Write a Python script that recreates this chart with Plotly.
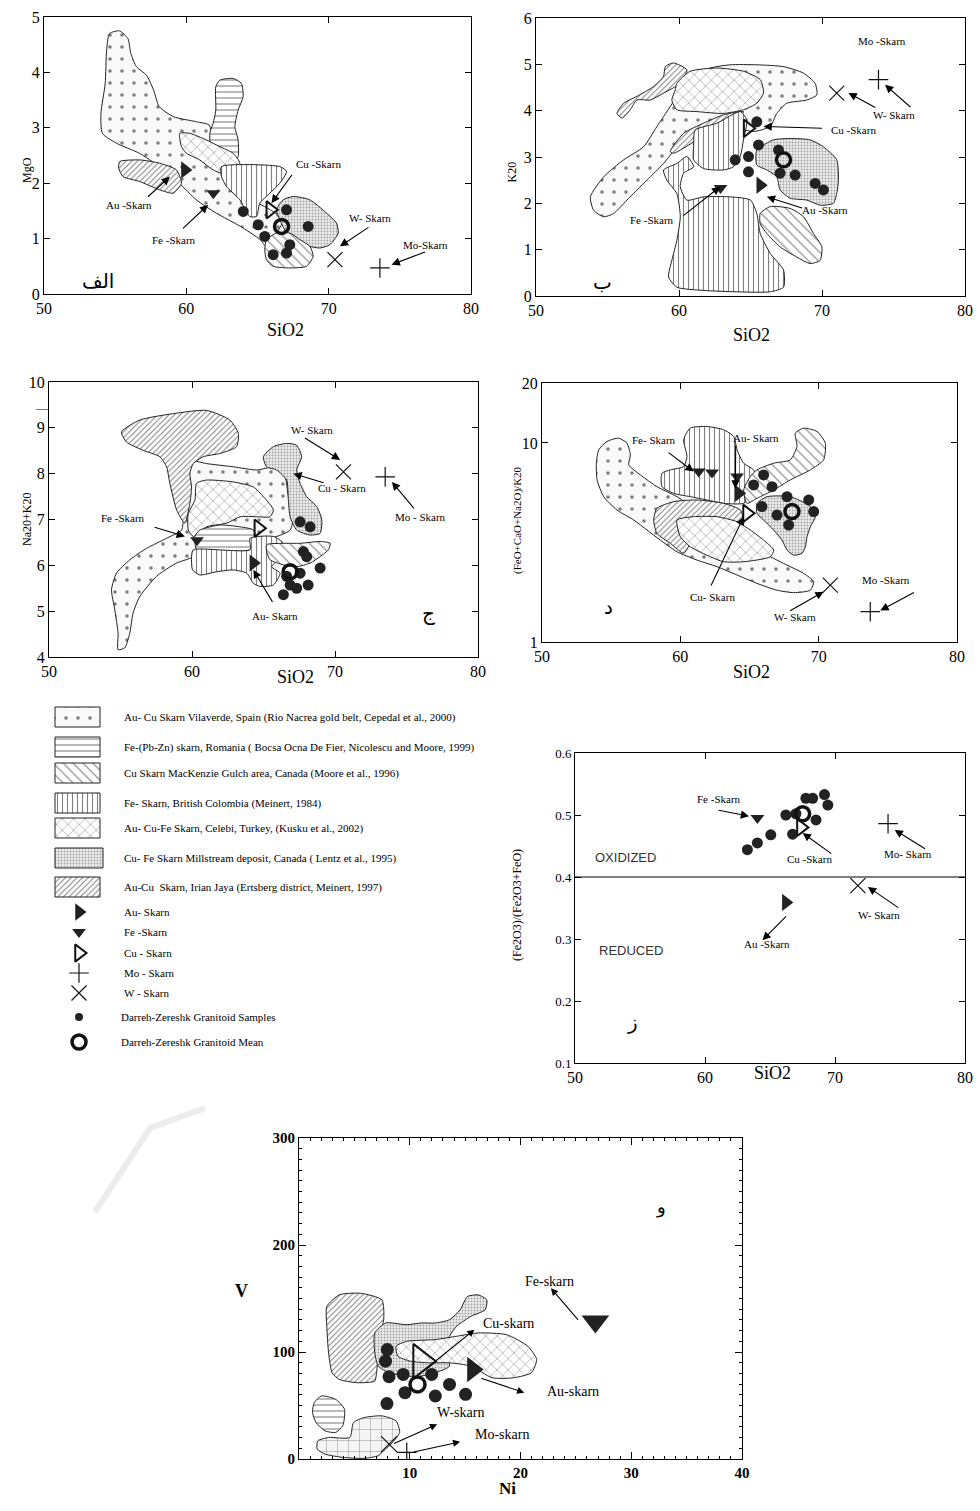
import numpy as np
import plotly.graph_objects as go

W, H = 980, 1511
SERIF = "Liberation Serif, Times New Roman, serif"
SANS = "Liberation Sans, Arial, sans-serif"
ARAB = "DejaVu Sans, Noto Sans, sans-serif"

# ============ DATA ============
# ---- Panel 1 (الف): MgO vs SiO2 ----
p1_A = [(54.6,4.70),(55.3,4.75),(55.9,4.61),(56.1,4.34),(56.5,4.10),(57.2,3.95),(57.7,3.68),(58.1,3.38),(59.1,3.20),(60.7,3.11),(61.6,3.05),(61.9,2.78),(63.3,2.18),(64.7,1.70),(65.9,1.52),(66.8,1.34),(65.6,0.86),(65.2,0.98),(63.8,1.22),(62.1,1.46),(60.7,1.70),(59.5,2.0),(58.1,2.30),(56.7,2.54),(55.1,2.72),(54.1,2.90),(54.0,3.26),(54.3,3.80),(54.4,4.40)]
p1_B = [(62.07,3.74),(62.35,3.86),(63.29,3.89),(63.87,3.80),(63.99,3.56),(63.64,3.32),(63.41,3.02),(63.64,2.78),(63.64,2.48),(63.29,2.33),(61.88,2.42),(61.65,2.90),(61.88,3.08),(62.07,3.32)]
p1_E = [(59.54,2.90),(60.24,2.90),(61.41,2.78),(62.35,2.66),(63.29,2.54),(63.76,2.36),(63.29,2.21),(62.82,2.15),(61.88,2.24),(60.94,2.42),(60.01,2.54),(59.66,2.66)]
p1_D = [(62.47,2.30),(66.57,2.30),(67.04,2.21),(66.57,2.00),(65.87,1.82),(65.16,1.64),(64.93,1.40),(64.46,1.40),(63.76,1.70),(62.82,1.94),(62.47,2.12)]
p1_F = [(66.80,1.70),(67.51,1.76),(68.68,1.70),(69.85,1.46),(70.55,1.28),(70.67,1.10),(70.08,0.89),(69.38,0.83),(68.68,0.86),(67.98,0.92),(67.51,0.98),(67.04,1.10),(66.57,1.34),(66.33,1.52)]
p1_C = [(65.63,0.98),(66.33,1.10),(67.27,1.10),(67.98,0.98),(68.68,0.86),(68.91,0.68),(68.44,0.50),(67.27,0.47),(66.10,0.50),(65.63,0.62),(65.51,0.80)]
p1_G = [(55.32,2.39),(56.73,2.42),(58.13,2.36),(59.30,2.24),(59.66,2.00),(59.07,1.82),(58.13,1.88),(56.73,2.03),(55.55,2.12),(55.25,2.27)]
p1_samples_x = [64.0,65.05,65.51,67.04,68.56,66.10,67.04,67.27]
p1_samples_y = [1.49,1.25,1.04,1.52,1.22,0.71,0.74,0.89]
p1_mean = (66.69,1.22)
p1_au = (59.9,2.24)
p1_fe = (61.9,1.82)
p1_cu = (65.9,1.52)
p1_w = (70.44,0.62)
p1_mo = (73.6,0.47)
p1_labels = [("Au -Skarn",56.0,1.61),("Fe -Skarn",59.1,0.97),("Cu -Skarn",69.3,2.34),("W- Skarn",72.9,1.38),("Mo-Skarn",76.8,0.89)]
p1_arrows = [(57.2,1.73,58.84,2.12),(59.66,1.16,61.53,1.61),(67.5,2.18,65.98,1.64),(72.9,1.22,70.79,0.86),(76.88,0.77,74.42,0.53)]

# ---- Panel 2 (ب): K2O vs SiO2 ----
p2_A = [(53.80,2.14),(54.73,2.57),(56.13,2.94),(57.52,3.22),(58.46,3.66),(59.39,4.09),(60.78,4.74),(62.18,4.92),(63.58,4.99),(65.44,4.99),(67.31,4.95),(68.71,4.81),(69.52,4.59),(69.64,4.34),(68.94,4.23),(67.54,4.16),(66.84,3.94),(66.38,3.66),(65.21,3.55),(63.58,3.66),(61.95,3.73),(60.78,3.51),(59.85,3.22),(58.92,2.86),(57.76,2.50),(56.36,2.07),(55.43,1.78),(54.73,1.71),(54.03,1.85)]
p2_G1 = [(59.04,4.95),(59.62,5.03),(60.55,4.88),(60.09,4.59),(58.92,4.38),(57.99,4.23),(57.06,4.23),(56.59,4.02),(56.01,3.84),(55.66,3.94),(56.13,4.16),(57.06,4.31),(58.22,4.52),(58.92,4.74)]
p2_G2 = [(59.39,3.12),(60.32,3.51),(61.72,3.73),(63.11,3.91),(64.51,3.98),(64.05,3.80),(62.65,3.62),(61.25,3.37),(60.32,3.19),(59.62,3.08)]
p2_E = [(59.85,4.59),(60.78,4.85),(62.65,4.92),(64.51,4.85),(65.68,4.67),(65.91,4.38),(65.44,4.16),(64.51,4.02),(63.11,3.94),(61.25,3.98),(59.85,4.02),(59.50,4.23),(59.74,4.45)]
p2_D1 = [(61.02,3.22),(61.13,3.58),(62.65,3.73),(64.28,3.98),(64.74,3.80),(64.51,3.37),(64.28,3.01),(63.81,2.79),(63.11,2.72),(61.72,2.75),(61.02,2.94)]
p2_D2 = [(58.92,2.72),(59.85,2.86),(60.55,3.01),(61.02,2.79),(60.32,2.65),(60.09,2.36),(60.55,2.07),(61.72,2.14),(63.58,2.14),(65.00,2.07),(65.44,1.78),(65.68,1.35),(66.38,0.92),(67.31,0.56),(67.31,0.19),(66.38,0.09),(64.05,0.09),(61.72,0.12),(59.85,0.19),(59.27,0.41),(59.50,0.77),(59.85,1.20),(60.09,1.71),(59.85,2.21),(59.15,2.50)]
p2_F = [(65.44,3.15),(66.61,3.37),(67.77,3.40),(69.17,3.37),(70.10,3.22),(71.03,2.94),(71.15,2.50),(71.03,2.21),(70.80,2.00),(69.87,1.96),(68.94,2.07),(67.77,2.11),(67.07,2.29),(66.84,2.57),(66.14,2.72),(65.44,2.83)]
p2_C = [(65.68,1.78),(66.38,1.93),(67.77,1.89),(68.71,1.71),(69.40,1.35),(69.99,1.06),(69.87,0.77),(69.17,0.70),(68.24,0.84),(67.07,1.06),(66.14,1.35),(65.68,1.56)]
p2_samples_x = [65.44,65.56,64.86,63.93,64.86,66.96,67.07,68.12,69.52,70.1]
p2_samples_y = [3.76,3.26,3.01,2.94,2.68,3.15,2.65,2.61,2.43,2.29]
p2_mean = (67.31,2.94)
p2_au = (65.68,2.39)
p2_fe = (62.9,2.33)
p2_cu = (64.8,3.62)
p2_w = (71.03,4.38)
p2_mo = (73.95,4.67)
p2_labels = [("Mo -Skarn",74.2,5.50),("W- Skarn",75.0,3.91),("Cu -Skarn",72.2,3.58),("Au -Skarn",70.2,1.85),("Fe -Skarn",58.1,1.64)]
p2_arrows = [(73.83,4.05,71.85,4.38),(76.28,4.05,74.41,4.56),(70.10,3.62,65.91,3.66),(68.71,1.89,66.14,2.14),(60.20,1.71,62.88,2.36)]

# ---- Panel 3 (ج): Na2O+K2O vs SiO2 ----
p3_A = [(58.80,8.26),(59.62,8.31),(61.02,8.22),(62.89,8.15),(64.52,8.08),(65.92,8.15),(66.51,7.93),(66.74,7.50),(67.09,7.06),(66.86,6.77),(65.92,6.63),(64.29,6.55),(62.42,6.59),(60.55,6.48),(60.09,6.19),(58.92,6.05),(57.52,5.76),(56.35,5.32),(55.88,4.96),(55.65,4.52),(55.30,4.20),(54.83,4.16),(54.83,4.52),(54.60,5.03),(54.37,5.47),(54.72,5.83),(55.65,6.12),(56.82,6.37),(58.22,6.59),(59.27,6.77),(59.39,7.06),(59.15,7.50),(58.92,7.86)]
p3_G = [(55.07,8.91),(56.35,9.17),(58.69,9.31),(61.02,9.38),(62.65,9.17),(63.24,8.88),(63.12,8.59),(61.95,8.44),(60.79,8.37),(60.09,8.22),(59.85,8.00),(59.97,7.71),(59.85,7.35),(59.50,6.92),(58.92,7.21),(58.45,7.79),(58.22,8.15),(57.75,8.37),(56.58,8.51),(55.42,8.69)]
p3_E = [(60.32,7.79),(61.02,7.86),(62.89,7.82),(64.29,7.71),(64.99,7.50),(65.69,7.21),(65.46,7.06),(64.52,7.06),(63.36,7.06),(62.42,6.92),(61.02,6.84),(60.09,6.63),(59.74,6.77),(59.74,7.13),(60.20,7.42)]
p3_B = [(60.55,6.77),(61.95,6.88),(63.36,6.84),(64.29,6.77),(64.52,6.48),(64.06,6.34),(62.65,6.30),(61.02,6.30),(60.32,6.34),(60.20,6.63)]
p3_D = [(60.09,6.34),(64.06,6.34),(64.06,6.59),(65.69,6.63),(66.39,6.48),(66.27,6.19),(65.57,5.97),(66.16,5.83),(65.69,5.57),(64.76,5.54),(64.29,5.61),(63.82,5.83),(62.89,5.90),(61.72,5.86),(60.55,5.79),(60.04,5.90),(59.97,6.19)]
p3_C = [(65.22,6.45),(66.39,6.48),(67.56,6.48),(68.96,6.52),(69.66,6.48),(69.54,6.34),(68.96,6.19),(68.26,6.05),(67.32,5.97),(66.39,6.01),(65.46,6.12),(65.22,6.30)]
p3_F = [(64.99,8.37),(65.69,8.59),(66.62,8.66),(67.32,8.62),(67.67,8.37),(67.32,8.08),(67.56,7.79),(68.02,7.50),(68.73,7.28),(69.08,6.99),(68.96,6.70),(68.26,6.66),(67.32,6.77),(66.86,7.06),(66.74,7.42),(66.62,7.86),(65.92,8.08),(65.22,8.15)]
p3_samples_x = [67.56,68.26,67.79,68.02,68.96,67.56,66.62,66.86,68.12,67.32,66.39]
p3_samples_y = [6.95,6.84,6.30,6.19,5.94,5.83,5.76,5.57,5.57,5.50,5.36]
p3_mean = (66.86,5.86)
p3_au = (64.29,6.05)
p3_fe = (60.35,6.55)
p3_cu = (64.64,6.81)
p3_w = (70.59,8.04)
p3_mo = (73.51,7.93)
p3_labels = [("W- Skarn",68.4,8.95),("Cu - Skarn",70.5,7.68),("Mo - Skarn",76.0,7.06),("Fe -Skarn",55.2,7.03),("Au- Skarn",65.8,4.89)]
p3_arrows = [(67.79,8.80,70.36,8.30),(69.31,7.79,67.09,8.0),(75.61,7.21,73.98,7.82),(57.28,6.84,59.50,6.63),(65.69,5.17,64.29,5.90)]

# ---- Panel 4 (د): (FeO+CaO+Na2O)/K2O vs SiO2 (log) ----
p4_A = [(54.10,9.23),(54.70,10.17),(55.54,10.57),(56.14,9.97),(56.39,8.71),(56.27,7.76),(57.11,6.91),(58.31,6.03),(59.76,5.37),(61.20,4.60),(63.13,3.79),(64.58,3.13),(66.02,2.79),(67.47,2.48),(68.92,2.21),(69.64,2.01),(69.40,1.82),(68.19,1.77),(66.99,1.82),(65.54,1.97),(64.10,2.17),(62.65,2.39),(61.20,2.58),(59.76,2.84),(58.55,3.25),(57.59,3.65),(56.63,4.10),(55.42,4.60),(54.46,5.37),(53.98,6.52),(53.93,7.91)]
p4_D = [(58.67,7.04),(59.28,7.32),(60.24,7.61),(60.48,8.54),(60.24,10.37),(60.72,11.87),(61.93,12.10),(63.13,11.64),(63.86,10.77),(64.10,9.23),(64.58,7.91),(65.30,7.32),(65.54,6.52),(65.06,5.37),(64.58,4.97),(63.13,4.97),(61.93,5.17),(60.72,5.37),(59.52,5.58),(58.67,6.03)]
p4_C = [(65.54,7.32),(66.75,7.91),(67.95,8.22),(68.43,9.60),(68.31,11.20),(68.92,11.86),(69.88,11.42),(70.48,9.97),(70.36,8.22),(69.40,7.32),(67.95,6.52),(66.75,5.80),(65.54,5.27),(64.82,4.97),(64.58,5.80),(65.06,6.78)]
p4_G = [(58.07,4.10),(58.31,4.69),(59.52,5.07),(61.20,5.17),(63.13,4.97),(64.34,4.60),(64.58,3.94),(64.10,3.65),(62.65,3.51),(61.20,3.51),(60.72,3.13),(60.24,2.79),(59.28,3.13),(58.31,3.51)]
p4_E = [(59.76,4.10),(60.96,4.26),(62.65,4.26),(64.10,4.02),(65.06,3.65),(66.02,3.25),(66.75,2.90),(66.51,2.68),(64.58,2.53),(63.13,2.53),(62.17,2.68),(60.72,3.01),(60.0,3.38)]
p4_F = [(65.54,4.97),(66.27,5.37),(67.95,5.37),(69.40,4.79),(69.76,4.26),(69.40,3.79),(69.16,3.38),(69.04,3.01),(68.80,2.79),(68.19,2.73),(67.71,2.90),(67.35,3.25),(66.75,3.65),(66.02,4.10),(65.54,4.43)]
p4_samples_x = [66.02,65.30,66.63,67.71,69.28,69.64,67.83,66.99,65.90]
p4_samples_y = [6.91,6.15,6.03,5.37,5.17,4.52,3.87,4.34,4.79]
p4_mean = (68.07,4.52)
p4_au = (64.22,5.58)
p4_fe_x = [61.33,62.29,64.10]
p4_fe_y = [7.18,7.10,6.78]
p4_cu = (64.82,4.43)
p4_w = (70.84,1.93)
p4_mo = (73.73,1.42)
p4_labels = [("Fe- Skarn",58.1,10.37),("Au- Skarn",65.5,10.57),("Cu- Skarn",62.3,1.69),("Mo -Skarn",74.9,2.05),("W- Skarn",68.3,1.34)]
p4_arrows = [(59.04,9.06,60.96,7.18),(64.0,9.9,63.98,5.9),(62.17,1.89,64.58,4.26),(76.99,1.79,74.46,1.44),(67.83,1.42,70.36,1.79)]

# ---- Panel 5 (ز): Fe2O3/(Fe2O3+FeO) vs SiO2 ----
REDOX_BOUNDARY = 0.4
p5_samples_x = [63.26,64.03,65.06,66.74,66.22,66.99,68.54,67.76,68.28,69.19,69.45]
p5_samples_y = [0.444,0.455,0.468,0.469,0.500,0.502,0.492,0.527,0.527,0.533,0.516]
p5_mean = (67.51,0.502)
p5_au = (66.22,0.359)
p5_fe = (64.03,0.495)
p5_cu = (67.38,0.480)
p5_w = (71.76,0.386)
p5_mo = (74.08,0.486)
p5_labels = [("Fe -Skarn",61.1,0.526),("Cu -Skarn",68.0,0.429),("Mo- Skarn",75.6,0.437),("W- Skarn",73.4,0.339),("Au -Skarn",64.8,0.292)]
p5_arrows = [(60.94,0.508,63.39,0.498),(69.83,0.436,67.51,0.471),(77.04,0.444,74.59,0.476),(74.98,0.349,72.53,0.384),(66.35,0.339,64.42,0.298)]

# ---- Panel 6 (و): V vs Ni ----
p6_G = [(2.51,142.5),(3.63,153.4),(5.56,154.9),(7.49,148.7),(7.65,130.2),(7.33,117.8),(7.16,99.2),(7.00,80.6),(6.84,72.8),(5.24,71.3),(3.63,74.4),(2.99,80.6),(2.67,99.2),(2.51,124.0)]
p6_F = [(6.84,117.8),(7.81,127.1),(9.73,125.5),(11.02,127.1),(12.31,127.1),(13.59,130.2),(14.55,139.4),(15.20,151.8),(16.16,153.4),(16.96,148.7),(16.80,139.4),(15.52,133.3),(14.23,124.0),(13.59,114.7),(13.27,102.3),(13.59,86.8),(12.31,80.6),(11.02,77.5),(9.73,77.5),(8.13,80.6),(7.16,86.8),(6.84,99.2)]
p6_E = [(8.77,105.4),(9.73,110.0),(12.31,111.6),(14.23,114.7),(16.16,117.8),(18.73,116.2),(20.66,105.4),(21.46,93.0),(20.98,80.6),(19.37,75.9),(17.45,75.9),(15.52,86.8),(13.59,89.9),(11.66,89.9),(10.06,91.4),(8.93,96.1)]
p6_B = [(1.38,52.7),(2.02,58.9),(3.31,55.8),(4.11,46.5),(3.95,31.0),(3.31,24.8),(2.35,26.3),(1.54,34.1),(1.22,43.4)]
p6_A = [(1.70,17.0),(2.67,20.1),(4.59,20.1),(4.92,34.1),(5.88,38.7),(7.49,40.3),(8.77,35.6),(9.09,24.8),(8.45,15.5),(7.81,9.3),(7.16,3.1),(5.88,0.6),(3.95,1.5),(2.35,4.6),(1.64,9.3)]
p6_samples_x = [7.97,7.81,8.13,9.41,11.98,9.57,12.31,13.59,15.04,7.94]
p6_samples_y = [102.3,91.4,76.9,79.0,79.0,62.0,58.9,69.7,60.4,51.8]
p6_mean = (10.70,69.7)
p6_au = (15.68,83.7)
p6_fe = (26.76,128.6)
p6_cu = (11.0,91.4)
p6_w = (8.13,13.9)
p6_mo = (9.73,6.2)
p6_labels = [("Fe-skarn",22.6,165.8),("Cu-skarn",18.9,126.4),("Au-skarn",24.7,63.5),("W-skarn",14.6,43.4),("Mo-skarn",18.3,23.2)]
p6_arrows = [(25.32,128.6,22.75,159.6),(11.02,80.6,15.84,120.9),(16.32,75.9,20.34,62.0),(8.45,13.9,12.47,32.5),(10.22,6.2,14.55,16.1)]

# ---- Legend ----
leg_fill_labels = [
    "Au- Cu Skarn Vilaverde, Spain (Rio Nacrea gold belt, Cepedal et al., 2000)",
    "Fe-(Pb-Zn) skarn, Romania ( Bocsa Ocna De Fier, Nicolescu and Moore, 1999)",
    "Cu Skarn MacKenzie Gulch area, Canada (Moore et al., 1996)",
    "Fe- Skarn, British Colombia (Meinert, 1984)",
    "Au- Cu-Fe Skarn, Celebi, Turkey, (Kusku et al., 2002)",
    "Cu- Fe Skarn Millstream deposit, Canada ( Lentz et al., 1995)",
    "Au-Cu  Skarn, Irian Jaya (Ertsberg district, Meinert, 1997)",
]
leg_fill_kinds = ["A", "B", "C", "D", "E", "F", "G"]
leg_marker_labels = ["Au- Skarn", "Fe -Skarn", "Cu - Skarn", "Mo - Skarn", "W - Skarn",
                     "Darreh-Zereshk Granitoid Samples", "Darreh-Zereshk Granitoid Mean"]
leg_marker_kinds = ["au", "fe", "cu", "mo", "w", "sample", "mean"]

# ============ STYLES ============
PAT = {
    "A": dict(shape=".", size=12, solidity=0.07, fgcolor="black", bgcolor="#f9f9f9"),
    "A+": dict(shape="+", size=11, solidity=0.07, fgcolor="black", bgcolor="#f4f4f4"),
    "B": dict(shape="-", size=6, solidity=0.18, fgcolor="black", bgcolor="white"),
    "C": dict(shape="\\", size=7, solidity=0.16, fgcolor="black", bgcolor="white"),
    "D": dict(shape="|", size=5, solidity=0.22, fgcolor="black", bgcolor="white"),
    "E": dict(shape="x", size=8, solidity=0.12, fgcolor="black", bgcolor="white"),
    "F": dict(shape=".", size=3, solidity=0.3, fgcolor="#555", bgcolor="#ececec"),
    "G": dict(shape="/", size=4, solidity=0.25, fgcolor="black", bgcolor="white"),
}
MK = {
    "au": dict(symbol="triangle-right", color="#222", size=15, line=dict(width=0)),
    "fe": dict(symbol="triangle-down", color="#222", size=12, line=dict(width=0)),
    "cu": dict(symbol="triangle-right-open", color="#111", size=15, line=dict(width=2, color="#111")),
    "mo": dict(symbol="cross-thin-open", color="#111", size=14, line=dict(width=1.2, color="#111")),
    "w": dict(symbol="x-thin-open", color="#111", size=15, line=dict(width=1.2, color="#111")),
    "sample": dict(symbol="circle", color="#222", size=11, line=dict(width=0)),
    "mean": dict(symbol="circle-open", color="#111", size=14, line=dict(width=3.5, color="#111")),
}

fig = go.Figure()


def ax_id(i, kind):
    return kind if i == 1 else f"{kind}{i}"


def add_poly(i, pts, kind):
    xs = [p[0] for p in pts] + [pts[0][0]]
    ys = [p[1] for p in pts] + [pts[0][1]]
    fig.add_trace(go.Scatter(x=xs, y=ys, mode="lines", fill="toself",
                             line=dict(color="#222", width=1, shape="spline", smoothing=0.6),
                             fillcolor="white", fillpattern=PAT[kind],
                             xaxis=ax_id(i, "x"), yaxis=ax_id(i, "y"),
                             showlegend=False, hoverinfo="skip"))


def add_mk(i, xs, ys, kind, size=None):
    m = dict(MK[kind])
    if size is not None:
        m["size"] = size
    fig.add_trace(go.Scatter(x=xs, y=ys, mode="markers", marker=m,
                             xaxis=ax_id(i, "x"), yaxis=ax_id(i, "y"),
                             showlegend=False, hoverinfo="skip"))


annots = []


def add_labels(i, labels, arrows, log=False, size=11, head=1.5):
    tf = (lambda v: np.log10(v)) if log else (lambda v: v)
    for t, x, y in labels:
        annots.append(dict(text=t, x=x, y=tf(y), xref=ax_id(i, "x"), yref=ax_id(i, "y"),
                           showarrow=False, font=dict(family=SERIF, size=size, color="black")))
    for x0, y0, x1, y1 in arrows:
        annots.append(dict(text="", x=x1, y=tf(y1), ax=x0, ay=tf(y0),
                           xref=ax_id(i, "x"), yref=ax_id(i, "y"),
                           axref=ax_id(i, "x"), ayref=ax_id(i, "y"),
                           showarrow=True, arrowhead=2, arrowsize=head, arrowwidth=1.1,
                           arrowcolor="black", standoff=0))


def add_points(i, sx, sy, mean, au, fe, cu, w, mo, sizes=None):
    s = sizes or {}
    add_mk(i, [w[0]], [w[1]], "w", s.get("w"))
    add_mk(i, [mo[0]], [mo[1]], "mo", s.get("mo"))
    add_mk(i, sx, sy, "sample", s.get("sample"))
    add_mk(i, [mean[0]], [mean[1]], "mean", s.get("mean"))
    if fe is not None:
        add_mk(i, [fe[0]], [fe[1]], "fe", s.get("fe"))
    add_mk(i, [au[0]], [au[1]], "au", s.get("au"))
    add_mk(i, [cu[0]], [cu[1]], "cu", s.get("cu"))


# Panel 1
for pts, k in [(p1_A, "A"), (p1_B, "B"), (p1_E, "E"), (p1_D, "D"), (p1_F, "F"), (p1_C, "C"), (p1_G, "G")]:
    add_poly(1, pts, k)
add_points(1, p1_samples_x, p1_samples_y, p1_mean, p1_au, p1_fe, p1_cu, p1_w, p1_mo)
add_labels(1, p1_labels, p1_arrows)

# Panel 2
for pts, k in [(p2_A, "A"), (p2_G1, "G"), (p2_G2, "G"), (p2_E, "E"), (p2_D1, "D"), (p2_D2, "D"), (p2_F, "F"), (p2_C, "C")]:
    add_poly(2, pts, k)
add_points(2, p2_samples_x, p2_samples_y, p2_mean, p2_au, p2_fe, p2_cu, p2_w, p2_mo)
add_labels(2, p2_labels, p2_arrows)

# Panel 3
for pts, k in [(p3_A, "A"), (p3_G, "G"), (p3_E, "E"), (p3_B, "B"), (p3_D, "D"), (p3_C, "C"), (p3_F, "F")]:
    add_poly(3, pts, k)
add_points(3, p3_samples_x, p3_samples_y, p3_mean, p3_au, p3_fe, p3_cu, p3_w, p3_mo)
add_labels(3, p3_labels, p3_arrows)

# Panel 4
for pts, k in [(p4_A, "A"), (p4_D, "D"), (p4_C, "C"), (p4_G, "G"), (p4_E, "E"), (p4_F, "F")]:
    add_poly(4, pts, k)
add_mk(4, p4_fe_x, p4_fe_y, "fe")
add_points(4, p4_samples_x, p4_samples_y, p4_mean, p4_au, None, p4_cu, p4_w, p4_mo)
add_labels(4, p4_labels, p4_arrows, log=True)

# Panel 5
add_points(5, p5_samples_x, p5_samples_y, p5_mean, p5_au, p5_fe, p5_cu, p5_w, p5_mo)
add_labels(5, p5_labels, p5_arrows)
annots.append(dict(text="OXIDIZED", x=53.9, y=0.432, xref="x5", yref="y5", showarrow=False,
                   font=dict(family=SANS, size=13, color="#333")))
annots.append(dict(text="REDUCED", x=54.3, y=0.281, xref="x5", yref="y5", showarrow=False,
                   font=dict(family=SANS, size=13, color="#333")))

# Panel 6
for pts, k in [(p6_G, "G"), (p6_F, "F"), (p6_E, "E"), (p6_B, "B"), (p6_A, "A+")]:
    add_poly(6, pts, k)
add_points(6, p6_samples_x, p6_samples_y, p6_mean, p6_au, p6_fe, p6_cu, p6_w, p6_mo,
           sizes=dict(sample=13, mean=15, fe=24, au=22, cu=30, w=16, mo=14))
add_labels(6, p6_labels, p6_arrows, size=14, head=1.3)

# ============ AXES ============
def dx(a, b):
    return [a / W, b / W]


def dy(top, bot):
    return [1 - bot / H, 1 - top / H]


base = dict(showline=True, linecolor="black", linewidth=1, mirror="ticks", ticks="inside",
            ticklen=6, tickcolor="black", showgrid=False, zeroline=False, automargin=False,
            tickfont=dict(family=SERIF, size=16, color="black"))
SI_TICKS = [50, 60, 70, 80]
boxes = {
    1: (44, 471, 17, 294, [0, 5], [0, 1, 2, 3, 4, 5]),
    2: (536, 965, 18, 296, [0, 6], [0, 1, 2, 3, 4, 5, 6]),
    3: (49, 478, 382, 657, [4, 10], [4, 5, 6, 7, 8, 9, 10]),
    4: (542, 957, 383, 642, [0, np.log10(20)], [1, 10, 20]),
    5: (575, 965, 753, 1063, [0.1, 0.6], [0.1, 0.2, 0.3, 0.4, 0.5, 0.6]),
}
for i, (x0, x1, y0, y1, yr, yt) in boxes.items():
    fig.layout[f"xaxis{'' if i == 1 else i}"] = dict(base, domain=dx(x0, x1), range=[50, 80],
                                                     tickvals=SI_TICKS, anchor=ax_id(i, "y"))
    ya = dict(base, domain=dy(y0, y1), range=yr, tickvals=yt, anchor=ax_id(i, "x"))
    if i == 4:
        ya["type"] = "log"
        ya["ticktext"] = ["1", "10", "20"]
    if i == 5:
        ya["ticktext"] = ["0.1", "0.2", "0.3", "0.4", "0.5", "0.6"]
        ya["tickfont"] = dict(family=SERIF, size=13, color="black")
    fig.layout[f"yaxis{'' if i == 1 else i}"] = ya

b6 = dict(base, ticklen=7, tickfont=dict(family=SERIF, size=15, color="black"))
fig.layout.xaxis6 = dict(b6, domain=dx(299, 742), range=[0, 40], tickvals=[10, 20, 30, 40],
                         ticktext=["<b>10</b>", "<b>20</b>", "<b>30</b>", "<b>40</b>"],
                         minor=dict(ticks="inside", ticklen=3, dtick=1, tickcolor="black"), anchor="y6")
fig.layout.yaxis6 = dict(b6, domain=dy(1138, 1459), range=[0, 300], tickvals=[0, 100, 200, 300],
                         ticktext=["<b>0</b>", "<b>100</b>", "<b>200</b>", "<b>300</b>"],
                         minor=dict(ticks="inside", ticklen=3, dtick=10, tickcolor="black"), anchor="x6")

# Panel 5 redox boundary line
fig.add_shape(type="line", xref="x5", yref="y5", x0=50, x1=80, y0=REDOX_BOUNDARY, y1=REDOX_BOUNDARY,
              line=dict(color="black", width=1.2))

# faint watermark stroke (scan artefact)
fig.add_shape(type="path", xref="paper", yref="paper",
              path=f"M {95/W} {1-1212/H} L {150/W} {1-1128/H} L {205/W} {1-1108/H}",
              line=dict(color="#ececec", width=6), layer="below")

# ============ LEGEND (own invisible axis, pixel units) ============
LX0, LX1, LY0, LY1 = 0, 570, 700, 1060
fig.layout.xaxis7 = dict(domain=dx(LX0, LX1), range=[LX0, LX1], visible=False, anchor="y7")
fig.layout.yaxis7 = dict(domain=dy(LY0, LY1), range=[LY1, LY0], visible=False, anchor="x7")
fill_rows = [717, 747, 773, 803, 828, 858, 887]
mk_rows = [912, 932, 953, 973, 993, 1017, 1042]
for lab, k, yc in zip(leg_fill_labels, leg_fill_kinds, fill_rows):
    sx0, sx1 = (55, 103) if k == "F" else (55, 100)
    fig.add_trace(go.Scatter(x=[sx0, sx1, sx1, sx0, sx0], y=[yc - 10, yc - 10, yc + 10, yc + 10, yc - 10],
                             mode="lines", fill="toself", line=dict(color="#222", width=1),
                             fillcolor="white", fillpattern=PAT[k], xaxis="x7", yaxis="y7",
                             showlegend=False, hoverinfo="skip"))
    annots.append(dict(text=lab, x=122, y=yc, xref="x7", yref="y7", xanchor="left", showarrow=False,
                       font=dict(family=SERIF, size=11, color="black")))
for lab, k, yc in zip(leg_marker_labels, leg_marker_kinds, mk_rows):
    m = dict(MK[k])
    if k == "sample":
        m["size"] = 8
    fig.add_trace(go.Scatter(x=[79], y=[yc], mode="markers", marker=m, xaxis="x7", yaxis="y7",
                             showlegend=False, hoverinfo="skip"))
    annots.append(dict(text=lab, x=122 if k not in ("sample", "mean") else 119, y=yc, xref="x7", yref="y7",
                       xanchor="left", showarrow=False, font=dict(family=SERIF, size=11, color="black")))

# ============ AXIS TITLES & PANEL LETTERS ============
def pa(text, x, y, size=17, angle=0, family=SERIF, **kw):
    annots.append(dict(text=text, x=x / W, y=1 - y / H, xref="paper", yref="paper", showarrow=False,
                       textangle=angle, font=dict(family=family, size=size, color="black"), **kw))


for (x, y) in [(265, 318), (772, 323), (275, 677), (772, 672), (793, 1085)]:
    pa("SiO2", x, y, size=18)
pa("MgO", 18, 155, size=12, angle=-90)
pa("K20", 511, 160, size=12, angle=-90)
pa("Na20+K20", 18, 520, size=12, angle=-90)
pa("(FeO+CaO+Na2O)/K20", 517, 520, size=11, angle=-90)
pa("(Fe2O3)/(Fe2O3+FeO)", 517, 905, size=12, angle=-90)
pa("<b>V</b>", 233, 1303, size=18)
pa("<b>Ni</b>", 507, 1500, size=17)
pa("—", 33, 399, size=12)
pa("الف", 80, 267, size=20, family=ARAB)
pa("ب", 602, 268, size=20, family=ARAB)
pa("ج", 428, 613, size=20, family=ARAB)
pa("د", 608, 607, size=20, family=ARAB)
pa("ز", 632, 1036, size=20, family=ARAB)
pa("و", 668, 1220, size=18, family=ARAB)

fig.update_layout(width=W, height=H, margin=dict(l=0, r=0, t=0, b=0, autoexpand=False),
                  paper_bgcolor="white", plot_bgcolor="rgba(0,0,0,0)",
                  showlegend=False, annotations=annots)

fig.write_html("out.html", config={"displayModeBar": False},
               post_script="document.body.style.margin='0';document.body.style.padding='0';")
